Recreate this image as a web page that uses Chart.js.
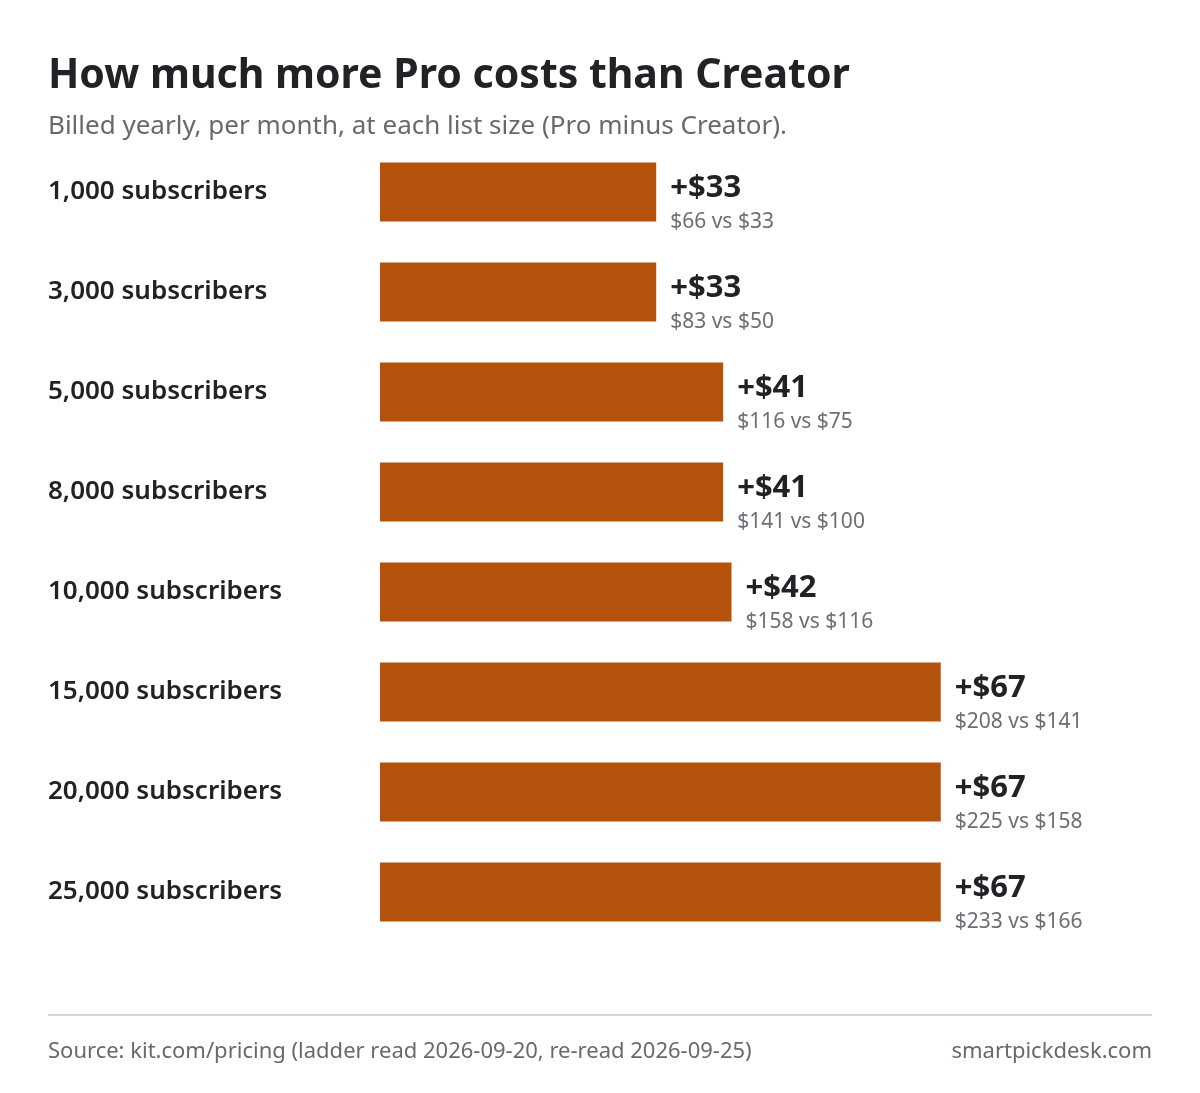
<!DOCTYPE html>
<html>
<head>
<meta charset="utf-8">
<script src="https://cdn.jsdelivr.net/npm/chart.js@4"></script>
<style>
  body { margin: 0; background: #fff; font-family: "Noto Sans", sans-serif; }
  #wrap { position: relative; width: 1200px; height: 1093px; }
  #chart { position: absolute; left: 0; top: 0; }
  .title { position: absolute; left: 48px; top: 44px; font-size: 41px; font-weight: 700; color: #212226; }
  .sub { position: absolute; left: 48px; top: 106px; font-size: 26px; color: #666a70; }
  .rule { position: absolute; left: 48px; top: 1014px; width: 1104px; height: 2px; background: #d6d6de; }
  .foot { position: absolute; top: 1034px; font-size: 22px; color: #666a70; }
</style>
</head>
<body>
<div id="wrap">
  <canvas id="chart" width="1200" height="1093"></canvas>
  <div class="title">How much more Pro costs than Creator</div>
  <div class="sub">Billed yearly, per month, at each list size (Pro minus Creator).</div>
  <div class="rule"></div>
  <div class="foot" style="left:48px">Source: kit.com/pricing (ladder read 2026-09-20, re-read 2026-09-25)</div>
  <div class="foot" style="right:48px">smartpickdesk.com</div>
</div>
<script>
// list sizes and yearly-billed monthly prices
const categories = ['1,000 subscribers', '3,000 subscribers', '5,000 subscribers', '8,000 subscribers',
  '10,000 subscribers', '15,000 subscribers', '20,000 subscribers', '25,000 subscribers'];
const proPrices = [66, 83, 116, 141, 158, 208, 225, 233];
const creatorPrices = [33, 50, 75, 100, 116, 141, 158, 166];
const differences = [33, 33, 41, 41, 42, 67, 67, 67];

// draws "+$33" and "$66 vs $33" next to each bar
const valueLabels = {
  id: 'valueLabels',
  afterDatasetsDraw(chart) {
    const ctx = chart.ctx;
    const meta = chart.getDatasetMeta(0);
    ctx.save();
    ctx.textAlign = 'left';
    meta.data.forEach((bar, i) => {
      const x = bar.x + 14;
      ctx.fillStyle = '#212226';
      ctx.font = '700 31px "Noto Sans"';
      ctx.textBaseline = 'middle';
      ctx.fillText('+$' + differences[i], x, bar.y - 4);
      ctx.fillStyle = '#6b6f75';
      ctx.font = '21px "Noto Sans"';
      ctx.fillText('$' + proPrices[i] + ' vs $' + creatorPrices[i], x, bar.y + 30);
    });
    ctx.restore();
  }
};

new Chart(document.getElementById('chart'), {
  type: 'bar',
  data: {
    labels: categories,
    datasets: [{
      data: differences,
      backgroundColor: '#b5530c',
      categoryPercentage: 1,
      barPercentage: 0.59
    }]
  },
  options: {
    indexAxis: 'y',
    responsive: false,
    animation: false,
    layout: { padding: { left: 48, right: 50, top: 142, bottom: 151 } },
    plugins: { legend: { display: false }, tooltip: { enabled: false } },
    scales: {
      x: { display: false, min: 0, max: 92 },
      y: {
        afterFit(scale) { scale.width = 332; },
        grid: { display: false, drawBorder: false },
        border: { display: false },
        ticks: {
          crossAlign: 'far',
          padding: 0,
          color: '#212226',
          font: { family: 'Noto Sans', size: 26, weight: '600' }
        }
      }
    }
  },
  plugins: [valueLabels]
});
</script>
</body>
</html>
